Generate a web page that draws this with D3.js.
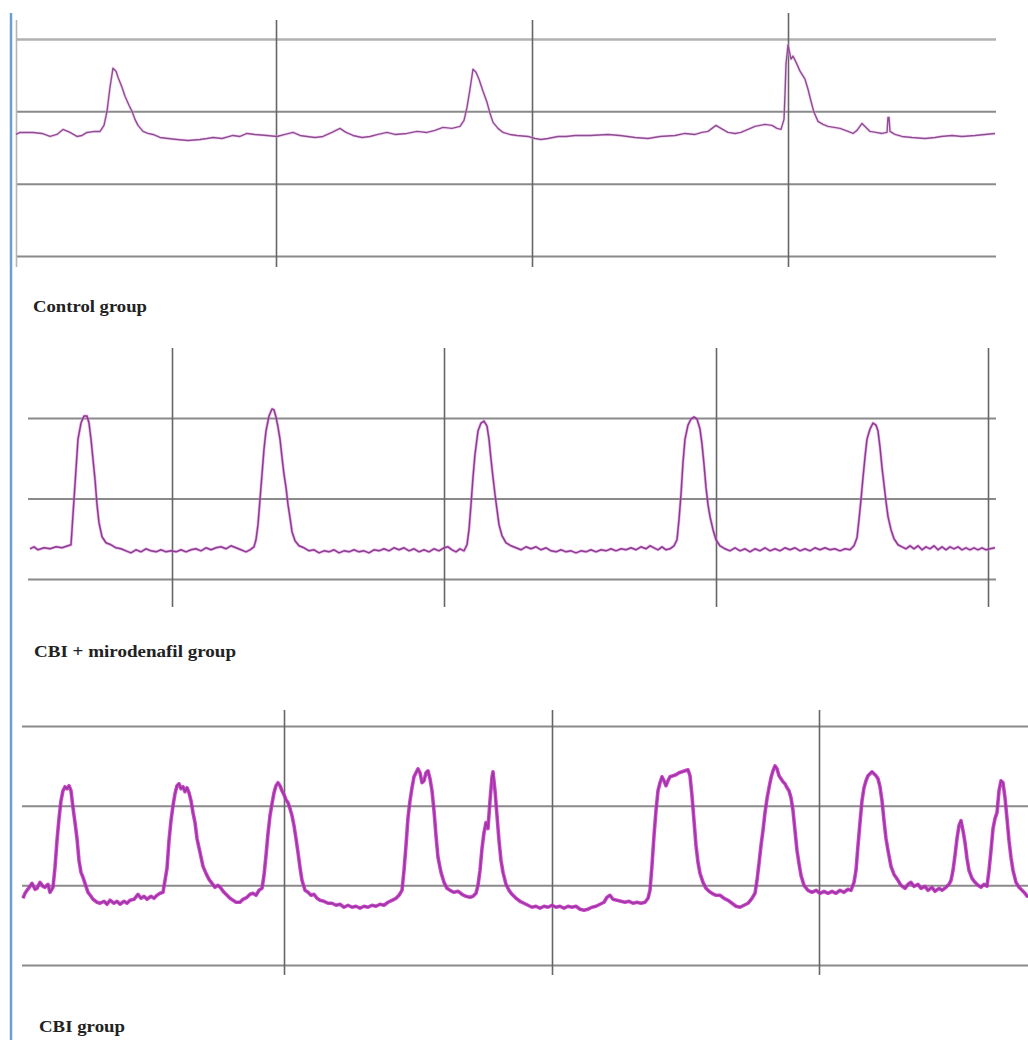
<!DOCTYPE html>
<html><head><meta charset="utf-8">
<script src="https://cdn.jsdelivr.net/npm/d3@7"></script>
<style>
html,body{margin:0;padding:0;background:#fff;}
svg{display:block;}
.lbl{font-family:"Liberation Serif","Times New Roman",serif;font-weight:bold;fill:#222;}
</style></head>
<body>
<svg id="c" width="1028" height="1040"></svg>
<script>
// ---------- DATA ----------
const panelLabels = ["Control group", "CBI + mirodenafil group", "CBI group"];

// vertical grid (time, s) and horizontal grid (signal units)
const controlGridT = [0, 65, 129, 193];
const controlGridV = [0, 18, 36, 54];
const miroGridT = [36, 104, 172, 240];
const miroGridV = [0, 20, 40];
const cbiGridT = [65.5, 132.5, 199.25];
const cbiGridV = [0, 20, 40, 60];

// [time, value]
const controlTrace = [
[0,30.25],[1,30.75],[4.25,30.75],[6.5,30.5],[8.5,29.75],[10.25,30.25],[11.75,31.5],[13.5,30.75],[15.25,29.75],[16.5,30],
[17.75,30.75],[19.75,31],[21,31],[22,32.5],[22.75,36],[23.5,42],[24.25,46.75],[25,46],[25.5,44.5],[26.5,42],
[27.25,39.75],[28.25,37.5],[29,36],[29.75,34],[30.5,32.5],[31.75,31],[33,30.5],[34.25,30.25],[36,29.5],[38,29.25],
[40.25,29],[43,28.75],[46,29],[47.75,29.25],[49.25,29.5],[51.5,29.25],[54.25,30],[56,29.75],[57.75,30.5],[59.75,30.25],
[62.75,30],[65.25,29.75],[67.25,30.25],[69.25,30.75],[71,30],[72.75,29.75],[74.75,29.5],[76.75,29.75],[79,30.75],[81,31.75],
[82.5,30.75],[84.25,30],[86.5,29.5],[88.5,29.75],[90.5,30.25],[92.75,30.75],[94.75,30.25],[97.75,30.5],[100.25,31],[102.75,30.75],
[104.75,31.25],[106.75,32],[109,31.75],[111,32.25],[112,33.75],[112.75,37],[113.5,41.5],[114.25,46.5],[115,45.75],[115.75,44],
[116.75,41],[117.75,38.25],[118.5,35.5],[119.25,33.25],[120.5,31.75],[121.75,30.75],[123.5,30.25],[125.25,30],[128,29.75],[129.75,29.25],
[131.25,29],[133,29.25],[135.5,29.75],[137.5,29.75],[139.75,30],[143.5,30],[148,30.25],[151,30],[154.75,29.5],[158,29.25],
[161,29.75],[164.75,30],[167.25,30.5],[169.75,30.25],[171.5,30.75],[173,31],[174,31.75],[175,32.5],[176.25,31.75],[178,30.75],
[179.75,30.5],[181.25,30.75],[183,31.5],[184.75,32.25],[187.25,32.75],[189,32.5],[190.25,31.75],[191.25,31.5],[192,34],[192.25,40.25],
[192.5,47.75],[193,52.5],[193.5,50.25],[193.75,49],[194.25,49.75],[195,48.25],[196,46],[197.25,44],[198,41.5],[198.75,38.5],
[199.5,35.75],[200.5,33.5],[201.75,32.75],[203,32.25],[204.5,32],[206,31.75],[208,31],[209.25,30.5],[210.25,31.25],[211.5,33],
[212.5,32],[213.5,31],[215,30.75],[216.5,30.5],[217.75,30.75],[218,34.5],[218.25,34.5],[218.5,31],[219.75,30.25],[221.5,29.75],
[224,29.5],[227.25,29.25],[229.75,29.5],[231.25,29.75],[234,30],[236.5,29.75],[239.75,30],[242.25,30.25],[244.75,30.5]
];

const miroTrace = [
[0.5,7.5],[1.5,8],[2.5,7.25],[4,7.75],[5.5,7.5],[7,8],[8.5,7.75],[10,8.25],[10.75,8.5],[11,12.25],
[11.5,19.75],[12,27.25],[12.5,34.75],[13.25,38.75],[14,40.5],[14.75,40.5],[15.25,38.75],[15.75,34.75],[16.25,29.75],[16.75,24.75],
[17.25,18.5],[17.75,14],[18.5,10.5],[19.5,9],[20.75,8.5],[22,7.75],[23.25,7.5],[24.5,7],[25.75,6.5],[27,7.25],
[28.25,6.75],[29.5,7.5],[30.75,7],[32,6.75],[33.25,7.25],[34.5,6.75],[35.75,7],[37,6.75],[38.25,7.25],[39.5,6.75],
[40.75,7.25],[42,7.5],[43.25,7],[44.5,7.75],[45.75,7.25],[47,7.75],[48.25,8],[49.5,7.5],[50.75,8.25],[52,7.75],
[53.25,7.25],[54.5,6.75],[55.5,7.25],[56.5,8],[57,9.75],[57.5,13.5],[58,19.75],[58.5,26],[59,32.25],[59.5,36.75],
[60.25,40.5],[61,42.25],[61.5,42],[62,40.25],[62.5,37.75],[63,34.75],[63.5,30.25],[64,26],[64.5,22.75],[65,18.5],
[65.5,15.25],[66,11.75],[66.75,9.5],[67.75,8.25],[69,7.75],[70.25,7],[71.5,7.25],[72.75,6.5],[74,7],[75.25,6.75],
[76.5,7.25],[77.75,6.5],[79,7],[80.25,6.75],[81.5,7.25],[82.75,6.75],[84,7],[85.25,6.5],[86.5,7.25],[87.75,7],
[89,7.5],[90.25,7],[91.5,7.75],[92.75,7.25],[94,7.75],[95.25,7],[96.5,7.5],[97.75,6.75],[99,7.25],[100.25,6.75],
[101.5,7.5],[102.75,7],[104,7.75],[105,8],[106,7.25],[107,6.75],[108,7.5],[109,7],[109.75,8.5],[110.25,12.25],
[110.75,18.5],[111.25,25.25],[111.75,31],[112.5,36.75],[113.25,38.75],[114,39.25],[114.75,38],[115.25,34.75],[115.75,29.75],[116.25,25.25],
[116.75,21],[117.25,17.25],[117.75,13.5],[118.5,10.75],[119.5,9],[120.75,8.25],[122,7.75],[123.25,7.25],[124.5,8],[125.75,7.5],
[127,8],[128.25,7.25],[129.5,7.75],[130.75,7],[132,6.75],[133.25,7.25],[134.5,6.75],[135.75,7],[137,6.5],[138.25,7],
[139.5,6.75],[140.75,7.25],[142,6.75],[143.25,7.25],[144.5,7],[145.75,7.5],[147,7],[148.25,7.5],[149.5,7.25],[150.75,7.75],
[152,7.25],[153.25,8],[154.5,7.5],[155.5,8.25],[156.5,7.75],[157.5,7.25],[158.5,8],[159.5,7.25],[160.5,7.5],[161.5,8.25],
[162.25,9.75],[162.75,14.75],[163.25,21],[163.75,29],[164.25,34.75],[165,38.25],[165.75,39.75],[166.5,40.25],[167.25,39.75],[168,37.25],
[168.5,33.5],[169,28.5],[169.5,22.75],[170,18.5],[170.5,15.5],[171.25,12.25],[172,9.75],[173,8.25],[174.25,7.5],[175.5,7],
[176.75,7.75],[178,7],[179.25,7.5],[180.5,6.75],[181.75,7.5],[183,7],[184.25,7.75],[185.5,7],[186.75,7.5],[188,7],
[189.25,7.75],[190.5,7.25],[191.75,7.75],[193,7],[194.25,7.5],[195.5,7],[196.75,7.75],[198,7.25],[199.25,7.75],[200.5,7.25],
[201.75,7.5],[203,7],[204.25,7.5],[205.5,7.25],[206.5,8.25],[207.25,10.25],[207.75,14.75],[208.25,19.75],[208.75,25.25],[209.25,30.25],
[209.75,34.75],[210.5,37.25],[211.25,38.75],[212,38.25],[212.5,36.75],[213,32.75],[213.5,27.75],[214,23.5],[214.5,19.25],[215,15.5],
[215.75,12.25],[216.5,10],[217.5,8.5],[218.5,8],[219.5,7.5],[220.5,8.25],[221.5,7.5],[222.5,8.25],[223.5,7.25],[224.5,8],
[225.5,7.5],[226.5,8.25],[227.5,7.25],[228.5,8],[229.5,7.25],[230.5,8],[231.5,7.5],[232.5,8],[233.5,7.25],[234.5,7.75],
[235.5,7.25],[236.5,7.75],[237.5,7.25],[238.5,7.75],[239.5,7.25],[240.5,7.5],[241.75,7.75]
];

const cbiTrace = [
[0.25,16.75],[0.75,18],[1.25,18.75],[2,19.75],[2.5,20.5],[3.25,19],[3.75,19.25],[4.5,20.75],[5.25,19.75],[5.75,19.5],
[6.5,20.25],[7,18.25],[7.75,19.5],[8.25,24.5],[8.75,31.25],[9.25,36.75],[9.75,41.25],[10.25,43.75],[10.75,44.75],[11.25,44.25],
[11.75,45],[12.25,43.75],[12.75,39.5],[13.25,35.75],[13.75,31.75],[14.25,26.25],[14.75,23.25],[15.25,22],[16,19.75],[16.5,18.25],
[17.25,17.25],[17.75,16.5],[18.75,15.75],[19.5,15.5],[20.5,16],[21.25,15.25],[22,16.25],[23,15.5],[23.75,16],[24.5,15.25],
[25.5,16],[26.25,15.5],[27,16.25],[28,16.5],[29,17.75],[29.75,16.75],[30.5,17.25],[31.25,16.5],[32.25,17.25],[33,16.75],
[33.75,17.5],[34.5,18],[35.25,18.25],[35.75,21.25],[36.25,24.25],[36.75,31.25],[37.25,36.25],[37.75,40],[38.25,43],[38.75,45],
[39.25,45.5],[39.75,44.25],[40.25,44.75],[40.75,43.5],[41.25,44.5],[41.75,43.25],[42.25,41.25],[42.75,38.25],[43.25,35.75],[43.75,31.75],
[44.5,28.25],[45.25,24.75],[46,23],[46.75,21.5],[47.5,20.5],[48.25,19.5],[49,20],[49.75,19.25],[50.5,18.25],[51.25,17.5],
[52,16.75],[52.75,16.25],[53.5,15.75],[54.5,15.75],[55.25,16.5],[56.25,17],[57,17.75],[57.75,18],[58.5,17.5],[59.25,18.75],
[60,19.25],[60.5,22.5],[61,27.5],[61.5,33],[62,37.5],[62.5,40.5],[63,43.25],[63.5,45],[64,45.75],[64.5,45],
[65,43.75],[65.5,42.75],[66,41.5],[66.5,40.75],[67,39.25],[67.5,37.5],[68,35],[68.5,31.75],[69,28.25],[69.5,24.5],
[70,21.25],[70.75,18.75],[71.5,18.25],[72.25,17.5],[73,17.75],[73.75,16.75],[74.5,16.25],[75.5,16],[76.5,15.5],[77.5,15.5],
[78.5,15],[79.5,15.25],[80.5,14.5],[81.5,15],[82.5,14.5],[83.5,14.75],[84.5,14.25],[85.5,14.75],[86.5,14.5],[87.5,15],
[88.5,14.75],[89.5,15.25],[90.5,15],[91.5,15.75],[92.5,16.25],[93.5,16.75],[94.25,17.5],[95,18.75],[95.5,23.75],[96,30],
[96.5,37],[97,41.25],[97.5,44.5],[98,47.25],[98.5,48.25],[99,49.25],[99.5,48.25],[100,45.75],[100.5,46.25],[101,48.25],
[101.5,48.75],[102,46.75],[102.5,43.75],[103,38.75],[103.5,32.5],[104,27],[104.75,23.25],[105.5,20.75],[106.25,19.25],[107,18.75],
[108,18.25],[109,18.5],[110,17.75],[111,17.25],[112,17],[112.75,17.25],[113.5,18],[114,20],[114.5,23.75],[115,29.25],
[115.5,33.25],[116,35.75],[116.5,34.25],[117,41.25],[117.5,47.25],[117.75,48.5],[118.25,43.75],[118.75,37.5],[119.25,31.25],[119.75,26.25],
[120.25,23.25],[121,20.25],[121.75,18.75],[122.5,17.75],[123.5,16.75],[124.5,16],[125.5,15.5],[126.5,15],[127.5,14.5],[128.5,14.75],
[129.5,14.25],[130.5,14.75],[131.5,14.5],[132.5,15],[133.5,14.5],[134.5,14.75],[135.5,14.25],[136.5,14.75],[137.5,14.5],[138.5,14.75],
[139.5,14],[140.5,13.75],[141.5,14],[142.5,14.5],[143.5,14.75],[144.5,15.25],[145.5,15.75],[146.25,17],[147,17.5],[147.75,16.5],
[148.75,16.25],[149.75,16],[150.75,15.75],[151.75,16],[152.75,15.5],[153.75,15.75],[154.75,15.5],[155.75,15.75],[156.5,16.75],[157,18.75],
[157.5,25],[158,32.5],[158.5,38.75],[159,43.75],[159.5,45.75],[160,47.25],[160.5,46.25],[161,45],[161.5,46.25],[162,47.25],
[162.75,47.5],[163.5,47.75],[164.25,48.25],[165,48.5],[165.75,48.75],[166.5,49],[167,47.5],[167.5,42.5],[168,36.25],[168.5,30],
[169,25.75],[169.5,23],[170.25,20.75],[171,19.25],[171.75,18.5],[172.5,18],[173.5,17.5],[174.5,17.5],[175.5,16.75],[176.5,16.25],
[177.5,15.5],[178.5,14.75],[179.5,14.5],[180.5,15],[181.5,15.5],[182.5,16.75],[183.25,18],[183.75,21.25],[184.25,25.5],[184.75,30],
[185.25,33.75],[185.75,38.25],[186.25,41.75],[186.75,44.5],[187.25,47],[187.75,48.75],[188.25,50],[188.75,49.25],[189.25,47.5],[189.75,46.75],
[190.25,46],[190.75,45.5],[191.25,44.5],[191.75,43.75],[192.25,42],[192.75,38.75],[193.25,33.75],[193.75,28.75],[194.25,25.5],[194.75,22.5],
[195.5,20],[196.5,18.75],[197.5,18.25],[198.5,18.75],[199.5,18],[200.5,18.5],[201.5,18],[202.5,18.5],[203.5,18],[204.5,18.75],
[205.5,18.25],[206.5,19],[207.25,18.75],[208,20.75],[208.5,23.75],[209,30],[209.5,35.75],[210,41.25],[210.5,44.5],[211,46.25],
[211.5,47.5],[212,48],[212.5,48.5],[213,48],[213.5,47.5],[214,46.75],[214.5,44.75],[215,41.25],[215.5,36.25],[216,31.75],
[216.5,28.75],[217.25,24.75],[218,22.75],[219,21.25],[219.75,20],[220.75,19.25],[221.5,20.25],[222.25,20.75],[223,19.75],[224,20.25],
[224.75,19.25],[225.75,19.75],[226.5,18.75],[227.5,19.5],[228.25,18.5],[229.25,19.25],[230,18.75],[231,19.5],[231.75,20.25],[232.25,21.25],
[232.75,23.75],[233.25,27.5],[233.75,31.75],[234.25,35],[234.75,36.25],[235.25,33.75],[235.75,30.75],[236.25,26.75],[236.75,23.75],[237.5,21.75],
[238.25,20.75],[239,20],[239.75,19.5],[240.5,20.25],[241.25,19.75],[241.75,23.75],[242.25,28.75],[242.75,34.25],[243.25,36.75],[243.75,38.25],
[244.25,43.75],[244.75,46.25],[245.25,45.75],[245.75,42],[246.25,36.75],[246.75,31.25],[247.25,27],[247.75,23.75],[248.5,20.75],[249.25,19.5],
[250,18.75],[250.75,18],[251.5,17]
];

// ---------- LAYOUT ----------
const svg = d3.select("#c");

// left blue border of the original screenshot
svg.append("line").attr("x1",11).attr("x2",11).attr("y1",13).attr("y2",1040)
  .attr("stroke","#6a9fd4").attr("stroke-width",2.5);

const panels = [
  {trace: controlTrace, gridT: controlGridT, gridV: controlGridV, tMax: 245, vMax: 54,
   xr:[16,996], yr:[256,39], vTop:20, vBot:267, label: panelLabels[0], lx:33, ly:312, tl:114,
   halo:"#e9a6ea", haloW:3, haloO:0.45, core:"#8d4d90", coreW:1.4},
  {trace: miroTrace, gridT: miroGridT, gridV: miroGridV, tMax: 242, vMax: 40,
   xr:[28,996], yr:[579,418], vTop:348, vBot:607, label: panelLabels[1], lx:34, ly:657, tl:202,
   halo:"#dc6ddc", haloW:3, haloO:0.5, core:"#8a3c8e", coreW:1.5},
  {trace: cbiTrace, gridT: cbiGridT, gridV: cbiGridV, tMax: 251.5, vMax: 60,
   xr:[22,1028], yr:[965,726], vTop:710, vBot:975, label: panelLabels[2], lx:39, ly:1032, tl:86,
   halo:"#c830c8", haloW:3.6, haloO:0.9, core:"#93399a", coreW:1.3}
];

panels.forEach((p, i) => {
  const x = d3.scaleLinear().domain([0, p.tMax]).range(p.xr);
  const y = d3.scaleLinear().domain([0, p.vMax]).range(p.yr);
  const g = svg.append("g");

  // horizontal grid via axis
  const ha = g.append("g").attr("transform", `translate(${p.xr[0]},0)`)
    .call(d3.axisLeft(y).tickValues(p.gridV).tickSize(-(p.xr[1]-p.xr[0])).tickFormat(""));
  ha.select(".domain").remove();
  ha.selectAll(".tick line").attr("stroke","#7d7d7d").attr("stroke-width",2).attr("stroke-opacity",0.9);
  if (i === 0) ha.selectAll(".tick line").filter(d => d === p.vMax).attr("stroke","#a8a8a8").attr("stroke-width",2.5);

  // vertical grid via axis
  const va = g.append("g").attr("transform", `translate(0,${p.vBot})`)
    .call(d3.axisBottom(x).tickValues(p.gridT).tickSize(-(p.vBot-p.vTop)).tickFormat(""));
  va.select(".domain").remove();
  va.selectAll(".tick line").attr("stroke","#666").attr("stroke-width",1.6);
  if (i === 0) {
    va.selectAll(".tick line").filter(d => d === 0).attr("stroke","#b5b5b5");
    va.selectAll(".tick line").filter(d => d === 193).attr("y2", -(p.vBot-13));
  }

  const line = d3.line().x(d => x(d[0])).y(d => y(d[1]));
  g.append("path").datum(p.trace).attr("d", line).attr("fill","none")
    .attr("stroke",p.halo).attr("stroke-width",p.haloW).attr("stroke-opacity",p.haloO)
    .attr("stroke-linejoin","round");
  g.append("path").datum(p.trace).attr("d", line).attr("fill","none")
    .attr("stroke",p.core).attr("stroke-width",p.coreW).attr("stroke-linejoin","round");

  g.append("text").attr("class","lbl").attr("x",p.lx).attr("y",p.ly)
    .attr("font-size",17).attr("textLength",p.tl).attr("lengthAdjust","spacingAndGlyphs")
    .text(p.label);
});
</script>
</body></html>
